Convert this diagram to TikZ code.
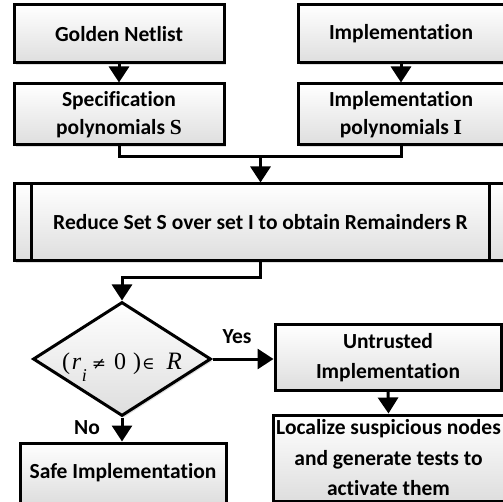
\documentclass[tikz,border=0pt]{standalone}
\usepackage{fontspec}
\setmainfont{Carlito}[Ligatures={NoCommon,NoContextual}]
\newfontfamily\serifb{Liberation Serif}
\newfontfamily\symserif{DejaVu Serif}
\usetikzlibrary{shapes.geometric,shadows,arrows.meta,calc}
\tikzset{
  shd/.style={drop shadow={shadow xshift=2pt,shadow yshift=-2pt,opacity=0.25}},
  box/.style={draw=black,line width=3pt,top color=white,bottom color=black!13,shd,
    align=center,font=\fontsize{21.5}{28.5}\selectfont\bfseries,inner sep=0pt},
  conn/.style={line width=3pt},
  arr/.style={conn,-{Triangle[width=20pt,length=16pt]}},
  lbl/.style={font=\fontsize{21.5}{24}\selectfont\bfseries,inner sep=0pt}
}
\begin{document}
\begin{tikzpicture}[x=1pt,y=-1pt]
\useasboundingbox (0,0) rectangle (503,502);
\clip (0,0) rectangle (503,502);
% boxes
\node[box,minimum width=210pt,minimum height=58pt] (golden) at (119,34) {Golden Netlist};
\node[box,minimum width=206pt,minimum height=58pt] (impl) at (401,34) {Implementation};
\node[box,minimum width=210pt,minimum height=61pt] (spec) at (119,114.5) {Specification\\polynomials {\serifb\bfseries S}};
\node[box,minimum width=206pt,minimum height=61pt] (ipoly) at (401,114.5) {Implementation\\polynomials {\serifb\bfseries I}};
\node[box,minimum width=493pt,minimum height=77pt] (reduce) at (260.5,222.5) {Reduce Set S over set I to obtain Remainders R};
\draw[conn] ([xshift=19pt]reduce.north west) -- ([xshift=19pt]reduce.south west);
\draw[conn] ([xshift=-19pt]reduce.north east) -- ([xshift=-19pt]reduce.south east);
\node[diamond,draw=black,line width=3pt,top color=white,bottom color=black!13,shd,
  minimum width=178pt,minimum height=114pt,inner sep=0pt] (dec) at (122,359) {};
\node[inner sep=0pt,font=\fontsize{24}{28}\selectfont\serifb,anchor=base] (dectxt) at ([xshift=0pt,yshift=-10pt]dec.center)
  {(\kern2pt\textit{r}\kern0.5pt\raisebox{-12pt}{\fontsize{18}{20}\selectfont\textit{i}}\kern5pt{\symserif\fontsize{17}{19}\selectfont ≠}\kern8pt 0\kern7pt)\kern1pt{\symserif\fontsize{17}{19}\selectfont ∈}\kern12pt{\fontsize{25}{27}\selectfont\textit{R}}};
\node[box,minimum width=226pt,minimum height=65pt,font=\fontsize{21.5}{30}\selectfont\bfseries] (unt) at (388,357.5) {Untrusted\\Implementation};
\node[box,minimum width=231pt,minimum height=86pt,font=\fontsize{21.5}{30.5}\selectfont\bfseries] (loc) at (388.5,458) {Localize suspicious nodes\\and generate tests to\\activate them};
\node[box,minimum width=206pt,minimum height=60pt] (safe) at (123,473) {Safe Implementation};
% labels
\node[lbl] (yes) at (237,337) {Yes};
\node[lbl] (no) at (87,428) {No};
% connectors
\coordinate (j1) at (260.5,157);
\coordinate (j2) at (260.5,278);
\draw[arr] (golden.south) -- (spec.north);
\draw[arr] (impl.south) -- (ipoly.north);
\draw[conn] (spec.south) |- (j1) -| (ipoly.south);
\draw[arr] (j1) -- (reduce.north);
\draw[arr] (reduce.south) -- (j2) -| (dec.north);
\draw[arr] (dec.east) -- (dec.east -| unt.west);
\draw[arr] (unt.south) -- (loc.north);
\draw[arr] (dec.south) -- (dec.south |- safe.north);
\end{tikzpicture}
\end{document}
